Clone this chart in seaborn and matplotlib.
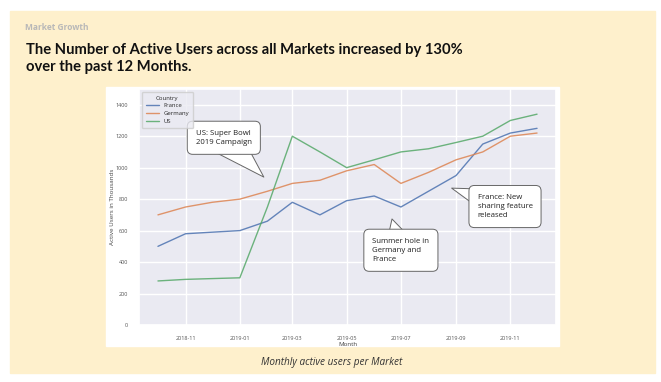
import seaborn as sns
import pandas as pd
import matplotlib.pyplot as plt
import matplotlib.dates as mdates
from matplotlib.patches import Rectangle

months = ['2018-10-01', '2018-11-01', '2018-12-01', '2019-01-01', '2019-02-01',
          '2019-03-01', '2019-04-01', '2019-05-01', '2019-06-01', '2019-07-01',
          '2019-08-01', '2019-09-01', '2019-10-01', '2019-11-01', '2019-12-01']
france = [500, 580, 590, 600, 660, 780, 700, 790, 820, 750, 850, 950, 1150, 1220, 1250]
germany = [700, 750, 780, 800, 850, 900, 920, 980, 1020, 900, 970, 1050, 1100, 1200, 1220]
us = [280, 290, 295, 300, 750, 1200, 1100, 1000, 1050, 1100, 1120, 1160, 1200, 1300, 1340]
countries = ['France', 'Germany', 'US']

df = pd.DataFrame({
    'Month': pd.to_datetime(months * 3),
    'Users': france + germany + us,
    'Country': [c for c in countries for _ in months],
})

sns.set_theme(style='darkgrid')
plt.rcParams['font.family'] = ['Open Sans', 'DejaVu Sans']

W, H = 661, 382
fig = plt.figure(figsize=(W / 100, H / 100), dpi=100, facecolor='white')


def box(x0, y0, x1, y1):
    # pixel coords (top-left origin) -> figure coords
    return (x0 / W, 1 - y1 / H), (x1 - x0) / W, (y1 - y0) / H


# beige slide background and white chart card
xy, w, h = box(10, 11, 655, 373)
fig.patches.append(Rectangle(xy, w, h, transform=fig.transFigure, color='#fef0cc', zorder=0))
xy, w, h = box(106, 87, 559, 346)
fig.patches.append(Rectangle(xy, w, h, transform=fig.transFigure, color='white', zorder=1))

fig.text(25 / W, 1 - 27 / H, 'Market Growth', fontsize=6, fontweight='bold',
         color='#b8b8b8', va='center')
fig.text(26 / W, 1 - 58.5 / H, 'The Number of Active Users across all Markets increased by 130%\n'
         'over the past 12 Months.', fontsize=10.6, fontweight='bold', color='#111111',
         va='center', linespacing=1.3, family=['Lato', 'DejaVu Sans'])
fig.text(332 / W, 1 - 363 / H, 'Monthly active users per Market', fontsize=7.2,
         style='italic', color='#333333', ha='center', va='center')

xy, w, h = box(139, 89, 556, 325)
ax = fig.add_axes([xy[0], xy[1], w, h])
ax.set_zorder(2)
sns.lineplot(data=df, x='Month', y='Users', hue='Country', palette='deep',
             linewidth=1.0, alpha=0.85, ax=ax)

ax.set_ylim(0, 1500)
ax.set_yticks(range(0, 1401, 200))
ax.xaxis.set_major_locator(mdates.MonthLocator(bymonth=[1, 3, 5, 7, 9, 11]))
ax.xaxis.set_major_formatter(mdates.DateFormatter('%Y-%m'))
ax.tick_params(labelsize=4, colors='#555555', pad=2)
ax.set_xlabel('Month', fontsize=4.5, color='#444444', labelpad=1)
ax.set_ylabel('Active Users in Thousands', fontsize=4.5, color='#444444', labelpad=0)

leg = ax.legend(title='Country', loc='upper left', fontsize=4.3, title_fontsize=4.3,
                handlelength=2.2, borderpad=0.6, labelspacing=0.45)

# Callouts (speech bubbles: wedge starts under the box, tip on the point)
bubble = dict(boxstyle='round,pad=1.1,rounding_size=0.7', fc='white', ec='#666666', lw=0.7)
tail = dict(arrowstyle='wedge,tail_width=4.5,shrink_factor=0.5', fc='white', ec='#666666',
            lw=0.7, patchA=None, shrinkA=0, shrinkB=0)
notes = [
    ('US: Super Bowl\n2019 Campaign', '2019-01-28', 940, '2018-12-14', 1190),
    ('Summer hole in\nGermany and\nFrance', '2019-06-21', 674, '2019-07-01', 475),
    ('France: New\nsharing feature\nreleased', '2019-08-27', 870, '2019-10-26', 753),
]
for txt, px, py, tx, ty in notes:
    ax.annotate(txt, xy=(mdates.date2num(pd.Timestamp(px)), py),
                xytext=(mdates.date2num(pd.Timestamp(tx)), ty),
                ha='center', va='center', multialignment='left', linespacing=1.4,
                fontsize=5.6, color='#222222', bbox=bubble, arrowprops=tail, zorder=5)

plt.savefig('out.png', dpi=100, facecolor='white')
